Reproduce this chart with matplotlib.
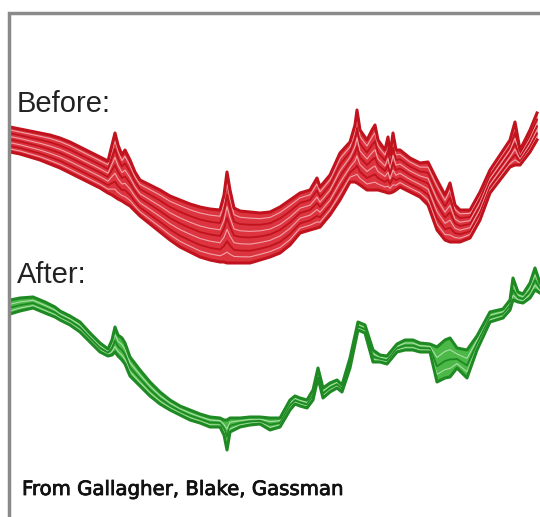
import matplotlib.pyplot as plt
import matplotlib.patheffects as pe
import numpy as np

# "Before" spectra: channel position and the upper / lower edge of the bundle
red_x = [10, 20, 30, 40, 50, 60, 70, 80, 90, 100, 108, 112, 115, 118, 122, 125,
         130, 135, 140, 150, 160, 170, 180, 190, 200, 210, 220, 224, 227, 230,
         234, 240, 250, 260, 270, 280, 290, 300, 310, 317, 320, 330, 340, 350,
         355, 357, 360, 367, 372, 375, 378, 385, 388, 390, 393, 396, 400, 410,
         420, 428, 437, 445, 450, 455, 460, 470, 480, 490, 500, 510, 515, 520,
         530, 537]
red_top = [127, 129, 131, 133, 135, 138, 142, 147, 152, 157, 161, 145, 133, 145,
           155, 150, 160, 172, 180, 185, 190, 196, 200, 204, 207, 209, 210, 195,
           172, 190, 208, 211, 212, 213, 212, 207, 200, 193, 190, 178, 187, 175,
           153, 142, 125, 110, 130, 140, 130, 125, 140, 150, 137, 155, 133, 150,
           150, 158, 163, 162, 180, 195, 183, 205, 210, 210, 192, 170, 155, 140,
           122, 150, 130, 113]
red_bottom = [152, 154, 157, 160, 164, 168, 173, 178, 183, 188, 193, 195, 197,
              199, 201, 203, 206, 211, 216, 224, 232, 240, 247, 252, 257, 260,
              262, 262, 263, 263, 263, 263, 263, 260, 257, 253, 245, 233, 230,
              228, 227, 215, 200, 182, 182, 183, 185, 190, 190, 190, 190, 192,
              193, 193, 192, 190, 187, 192, 197, 205, 230, 240, 242, 242, 242,
              238, 220, 193, 180, 167, 165, 165, 152, 140]

# "After" spectra
green_x = [10, 20, 33, 45, 55, 60, 70, 80, 90, 100, 108, 112, 115, 118, 122, 125,
           130, 140, 150, 160, 170, 180, 190, 200, 210, 220, 224, 227, 230, 240,
           250, 260, 270, 280, 290, 295, 300, 307, 313, 318, 323, 330, 337, 342,
           350, 358, 365, 373, 380, 387, 397, 405, 413, 420, 430, 437, 445, 450,
           457, 467, 477, 490, 503, 510, 513, 518, 523, 530, 535, 540]
green_top = [300, 298, 297, 302, 307, 311, 316, 322, 333, 343, 349, 340, 327,
             335, 338, 343, 357, 370, 382, 392, 400, 406, 410, 414, 417, 418,
             420, 420, 418, 418, 417, 417, 418, 418, 400, 396, 398, 400, 390,
             368, 388, 383, 380, 385, 358, 322, 325, 350, 355, 356, 344, 340,
             340, 343, 344, 347, 340, 338, 348, 350, 336, 312, 309, 300, 278,
             292, 294, 283, 268, 283]
green_bottom = [314, 311, 308, 313, 317, 320, 325, 332, 342, 352, 356, 355, 352,
                356, 360, 364, 376, 386, 396, 404, 410, 415, 420, 423, 427, 427,
                435, 450, 432, 427, 425, 424, 430, 427, 410, 404, 406, 408, 400,
                378, 398, 392, 388, 392, 368, 330, 333, 362, 362, 364, 352, 350,
                350, 352, 352, 382, 378, 377, 368, 378, 350, 322, 318, 310, 300,
                302, 303, 298, 290, 293]

# where each spectrum sits inside its bundle (0 = top edge, 1 = bottom edge)
red_levels = [0.12, 0.25, 0.38, 0.5, 0.63, 0.76, 0.88]
green_levels = [0.3, 0.55, 0.78]

fig = plt.figure(figsize=(5.4, 5.17), dpi=100)
ax = fig.add_axes([0, 0, 1, 1])
ax.set_xlim(0, 540)
ax.set_ylim(517, 0)
ax.axis('off')


def draw_bundle(x, top, bottom, levels, fill, edge, streak):
    top = np.array(top, dtype=float)
    bottom = np.array(bottom, dtype=float)
    ax.fill_between(x, top, bottom, color=fill, lw=0, zorder=2)
    ax.plot(x, top, color=edge, lw=2.2, zorder=4, solid_joinstyle='round')
    ax.plot(x, bottom, color=edge, lw=2.2, zorder=4, solid_joinstyle='round')
    for i, f in enumerate(levels):
        y = top + f * (bottom - top)
        if i % 2:
            ax.plot(x, y, color=edge, lw=1.3, zorder=3)
        else:
            ax.plot(x, y, color=streak, lw=0.8, alpha=0.75, zorder=3)


draw_bundle(red_x, red_top, red_bottom, red_levels,
            '#dc3540', '#c0131e', '#f7c9cc')
draw_bundle(green_x, green_top, green_bottom, green_levels,
            '#4cb847', '#1f8a24', '#c8ecc4')

# frame
ax.plot([9, 9, 540], [517, 13, 13], color='#8a8a8a', lw=2.5, zorder=5,
        solid_joinstyle='miter')

ax.text(17, 112, 'Before:', fontsize=21, family='Liberation Sans',
        color='#222222', va='baseline')
ax.text(17, 283, 'After:', fontsize=21, family='Liberation Sans',
        color='#222222', va='baseline')
ax.text(22, 495, 'From Gallagher, Blake, Gassman', fontsize=14.2,
        family='DejaVu Sans', color='#111111', va='baseline',
        path_effects=[pe.withStroke(linewidth=0.6, foreground='#111111')])

fig.savefig('out.png', dpi=100)
